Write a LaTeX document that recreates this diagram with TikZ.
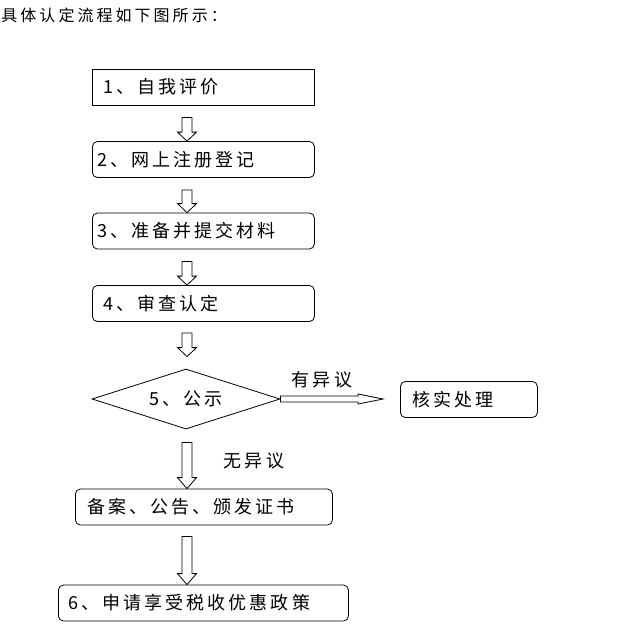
\documentclass[tikz,border=0pt]{standalone}
\usepackage{fontspec}
\newfontfamily\cjk{Noto Sans CJK SC}[LetterSpace=17]
\newfontfamily\cjktitle{Noto Sans CJK SC}[LetterSpace=19]
\usetikzlibrary{shapes.geometric,calc}
\begin{document}
\begin{tikzpicture}[x=1pt,y=-1pt,line width=.8pt,
    txt/.style={font=\cjk\fontsize{18}{18}\selectfont},
    box/.style={txt,draw,rounded corners=5pt,anchor=west,align=left,minimum height=36pt},
    vhollow/.style={to path={let \p1=(\tikztostart), \p2=(\tikztotarget) in
        (\x1-5pt,\y1) -- (\x1-5pt,\y2+#1) -- (\x1-9.5pt,\y2+#1) -- (\x1,\y2)
        -- (\x1+9.5pt,\y2+#1) -- (\x1+5pt,\y2+#1) -- (\x1+5pt,\y1) -- cycle}},
    vhollow/.default=9pt,
    hhollow/.style={to path={let \p1=(\tikztostart), \p2=(\tikztotarget) in
        (\x1,\y1+3pt) -- (\x2-25pt,\y1+3pt) -- (\x2-25pt,\y1+5pt) -- (\x2,\y1)
        -- (\x2-25pt,\y1-5pt) -- (\x2-25pt,\y1-3pt) -- (\x1,\y1-3pt) -- cycle}}]
    \useasboundingbox (0,0) rectangle (640,638);
    \node[anchor=west,inner sep=0pt,font=\cjktitle\fontsize{16}{16}\selectfont] (t) at (1,15) {具体认定流程如下图所示：};
    \coordinate (axis) at (187,0);
    \node[box,sharp corners,inner xsep=11pt,text width=200pt] (s1) at (92,87) {1、自我评价};
    \node[box,inner xsep=5pt,text width=212pt] (s2) at (92,159.5) {2、网上注册登记};
    \node[box,inner xsep=5pt,text width=212pt] (s3) at (92,231) {3、准备并提交材料};
    \node[box,inner xsep=11pt,text width=200pt] (s4) at (92,303.5) {4、审查认定};
    \node[txt,draw,diamond,aspect=3.13,minimum width=188pt,minimum height=60pt,inner sep=0pt] (s5) at (186,399) {5、公示};
    \node[box,inner xsep=12pt,text width=113pt] (k) at (400,399.5) {核实处理};
    \node[box,inner xsep=12pt,text width=233pt] (b) at (75,507) {备案、公告、颁发证书};
    \node[box,inner xsep=10pt,text width=270pt] (s6) at (58,603) {6、申请享受税收优惠政策};
    \draw[vhollow] ($(s1.south -| axis)+(0,12)$) to (s2.north -| axis);
    \draw[vhollow] ($(s2.south -| axis)+(0,12)$) to (s3.north -| axis);
    \draw[vhollow] ($(s3.south -| axis)+(0,12)$) to (s4.north -| axis);
    \draw[vhollow] ($(s4.south -| axis)+(0,11)$) to ($(s5.north -| axis)+(0,-12)$);
    \draw[vhollow=11pt] ($(s5.south -| axis)+(0,13)$) to (b.north -| axis);
    \draw[vhollow=11pt] ($(b.south -| axis)+(0,11)$) to (s6.north -| axis);
    \draw[hhollow] (s5.east) to ($(s5.east -| k.west)+(-17,0)$);
    \node[txt] (yes) at (322,380) {有异议};
    \node[txt] (no) at (254,461) {无异议};
\end{tikzpicture}
\end{document}
